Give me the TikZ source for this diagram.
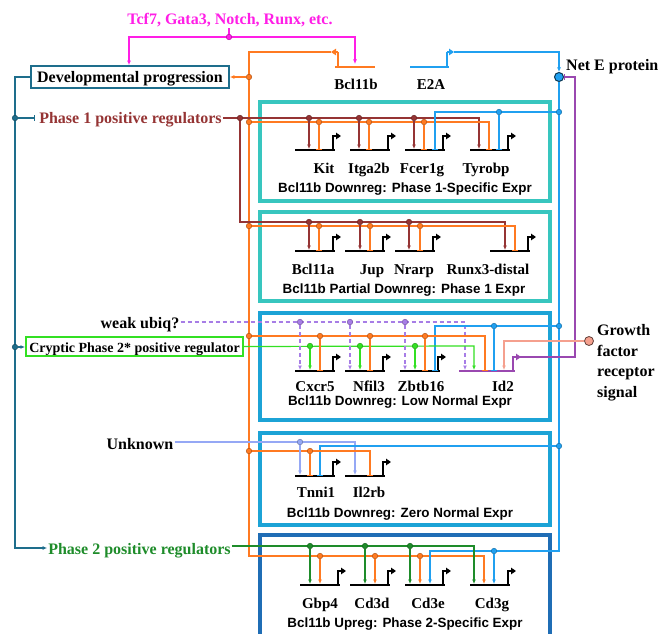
\documentclass[tikz,border=0pt]{standalone}
\usepackage{fontspec}
\setmainfont{Liberation Serif}
\setsansfont{Liberation Sans}
\usetikzlibrary{arrows.meta}
\definecolor{cMag}{HTML}{FF1EE6}
\definecolor{cDev}{HTML}{1E6E8C}
\definecolor{cOr}{HTML}{FF7A21}
\definecolor{cRed}{HTML}{953434}
\definecolor{cBlue}{HTML}{20A0F0}
\definecolor{cPur}{HTML}{9A48B0}
\definecolor{cLP}{HTML}{A77DE6}
\definecolor{cLG}{HTML}{33E023}
\definecolor{cDG}{HTML}{1E8C2A}
\definecolor{cPeach}{HTML}{F5A08E}
\definecolor{cPeri}{HTML}{95A8F5}
\definecolor{cTurq}{HTML}{38C6BF}
\definecolor{cCyan}{HTML}{1CA3D6}
\definecolor{cNavy}{HTML}{1F6DB5}
\tikzset{
  wire/.style={line width=1.2pt,draw=#1},
  act/.style={-{Latex[length=4.5pt,width=4pt]}},
  rep/.style={-{Bar[width=6pt]}},
  jdot/.style={circle,inner sep=0pt,minimum size=5.5pt,fill=#1,draw=#1!70!black,line width=0.5pt},
  geneline/.style={line width=2.6pt,draw=#1},
  prom/.style={line width=2pt,draw=#1,-{Triangle[length=5pt,width=6.5pt]}},
  glabel/.style={font=\bfseries\fontsize{15}{17}\selectfont,inner sep=0pt},
  bigtxt/.style={font=\bfseries\fontsize{16}{18}\selectfont,inner sep=1pt},
  captxt/.style={font=\sffamily\bfseries\fontsize{13.4}{15}\selectfont,inner sep=0pt},
  grp/.style={draw=#1,line width=3.5pt,inner sep=0pt,fill=white},
}
\newcommand\jdrop[6]{%
  \node[jdot=#1] (#6) at (#2,#3) {};
  \coordinate (#6g) at (#2,#4);
  \draw[wire=#1,#5] (#6) -- (#6g);
}
\newcommand\gene[5]{%
  \coordinate (#1L) at (#2,#4);
  \coordinate (#1R) at (#3,#4);
  \draw[geneline=#5] (#1L) -- (#1R);
  \draw[prom=#5] (#3-2,#4+1) -- (#3-2,#4-14) -- (#3+6,#4-14);
}
\begin{document}
\begin{tikzpicture}[x=1pt,y=-1pt]
\useasboundingbox (0,0) rectangle (662,634);
% group boxes
\node[grp=cTurq,minimum width=290pt,minimum height=99pt] (box1) at (405,151.5) {};
\node[grp=cTurq,minimum width=290pt,minimum height=89pt] (box2) at (405,256.5) {};
\node[grp=cCyan,minimum width=290pt,minimum height=107pt] (box3) at (405,366.5) {};
\node[grp=cCyan,minimum width=290pt,minimum height=92pt] (box4) at (405,479) {};
\draw[draw=cNavy,line width=3.5pt] (260,645) -- (260,535) -- (550,535) -- (550,645);
\coordinate (box5) at (405,585);
% captions
\node[captxt,anchor=base] (cap1) at (405,192) {Bcl11b Downreg: Phase 1-Specific Expr};
\node[captxt,anchor=base] (cap2) at (404,293) {Bcl11b Partial Downreg: Phase 1 Expr};
\node[captxt,anchor=base] (cap3) at (400,405) {Bcl11b Downreg: Low Normal Expr};
\node[captxt,anchor=base] (cap4) at (400,517) {Bcl11b Downreg: Zero Normal Expr};
\node[captxt,anchor=base] (cap5) at (405,627) {Bcl11b Upreg: Phase 2-Specific Expr};
% text nodes
\node[bigtxt,text=cMag,anchor=base] (tcf) at (230,25) {Tcf7, Gata3, Notch, Runx, etc.};
\node[draw=cDev,line width=1.8pt,minimum width=198pt,minimum height=22pt,inner sep=0pt,
  text height=14pt,text depth=2pt,font=\bfseries\fontsize{16}{18}\selectfont] (dev) at (130,77) {Developmental progression};
\node[bigtxt,text=cRed,anchor=base] (ph1) at (130.5,124) {Phase 1 positive regulators};
\node[bigtxt,anchor=base] (wu) at (140,328) {weak ubiq?};
\node[draw=cLG,line width=2pt,minimum width=217pt,minimum height=19pt,inner sep=0pt,
  text height=13pt,text depth=1pt,font=\bfseries\fontsize{14}{16}\selectfont] (cryp) at (134.5,346.5) {Cryptic Phase 2* positive regulator};
\node[bigtxt,anchor=base] (unk) at (140,449) {Unknown};
\node[bigtxt,text=cDG,anchor=base] (ph2) at (139.5,554) {Phase 2 positive regulators};
\node[bigtxt,anchor=base west,inner sep=0pt] (netetxt) at (566,71) {Net E protein};
\node[anchor=base west,inner sep=0pt,align=left,font=\bfseries\fontsize{16}{20.5}\selectfont] (gf) at (597,397) {Growth\\factor\\receptor\\signal};
\node[glabel,anchor=base] (lbcl) at (356,89) {Bcl11b};
\node[glabel,anchor=base] (le2a) at (431,89) {E2A};
% regulator genes
\draw[geneline=cOr] (335,67) -- (375,67);
\draw[line width=2pt,draw=cOr] (338,68) -- (338,52);
\draw[draw=cOr,line width=1.2pt,-{Triangle[length=5pt,width=6.5pt]}] (338,52) -- (331,52);
\draw[geneline=cBlue] (410,67) -- (449,67);
\draw[line width=2pt,draw=cBlue] (447,68) -- (447,52);
\draw[draw=cBlue,line width=1.2pt,-{Triangle[length=5pt,width=6.5pt]}] (447,52) -- (454,52);
\node[circle,fill=cBlue,draw=black!65!cBlue,line width=1pt,minimum size=9pt,inner sep=0pt] (nete) at (559,77) {};
\node[circle,fill=cPeach,draw=black!60!cPeach,line width=0.8pt,minimum size=9pt,inner sep=0pt] (gfc) at (589,341) {};
% target genes
\gene{kit}{295}{335}{150}{black}
\gene{itg}{350}{390}{150}{black}
\gene{fce}{405}{445}{150}{black}
\gene{tyr}{470}{510}{150}{black}
\gene{bca}{295}{335}{251}{black}
\gene{jup}{345}{385}{251}{black}
\gene{nra}{395}{435}{251}{black}
\gene{rnx}{490}{530}{251}{black}
\gene{cxc}{295}{335}{371}{black}
\gene{nfi}{345}{385}{371}{black}
\gene{zbt}{400}{440}{371}{black}
\gene{idt}{459}{515}{371}{cPur}
\gene{tnn}{295}{335}{476}{black}
\gene{ilr}{345}{385}{476}{black}
\gene{gbp}{300}{340}{585}{black}
\gene{cdd}{350}{390}{585}{black}
\gene{cde}{405}{445}{585}{black}
\gene{cdg}{470}{510}{585}{black}
% gene labels
\node[glabel,anchor=base] (lkit) at (324,173) {Kit};
\node[glabel,anchor=base] (litg) at (369,173) {Itga2b};
\node[glabel,anchor=base] (lfce) at (422,173) {Fcer1g};
\node[glabel,anchor=base] (ltyr) at (486,173) {Tyrobp};
\node[glabel,anchor=base] (lbca) at (313,274) {Bcl11a};
\node[glabel,anchor=base] (ljup) at (372,274) {Jup};
\node[glabel,anchor=base] (lnra) at (414,274) {Nrarp};
\node[glabel,anchor=base] (lrnx) at (488,274) {Runx3-distal};
\node[glabel,anchor=base] (lcxc) at (315,391) {Cxcr5};
\node[glabel,anchor=base] (lnfi) at (369,391) {Nfil3};
\node[glabel,anchor=base] (lzbt) at (421,391) {Zbtb16};
\node[glabel,anchor=base] (lidt) at (503,391) {Id2};
\node[glabel,anchor=base] (ltnn) at (316,497) {Tnni1};
\node[glabel,anchor=base] (lilr) at (369,497) {Il2rb};
\node[glabel,anchor=base] (lgbp) at (320,608) {Gbp4};
\node[glabel,anchor=base] (lcdd) at (372,608) {Cd3d};
\node[glabel,anchor=base] (lcde) at (428,608) {Cd3e};
\node[glabel,anchor=base] (lcdg) at (492,608) {Cd3g};
% magenta
\coordinate (magL) at (129,37);
\coordinate (magR) at (355,37);
\draw[wire=cMag] (229,37) -- (229,28);
\draw[wire=cMag,act] (229,37) -- (magL) -- (dev.north -| magL);
\draw[wire=cMag,act] (229,37) -- (magR) -- (355,64);
\node[jdot=cMag] (magJ) at (229,37) {};
% developmental teal
\coordinate (tl1) at (15,77);
\coordinate (tlB) at (15,548);
\draw[wire=cDev,act] (dev.west) -- (tl1) -- (tlB) -- (ph2.west |- tlB);
\node[jdot=cDev] (tlP) at (15,118) {};
\draw[wire=cDev,rep] (tlP) -- (35,118);
\node[jdot=cDev] (tlC) at (15,347) {};
\draw[wire=cDev,act] (tlC) -- (cryp.west |- tlC);
% orange main
\draw[wire=cOr,act] (331,52) -- (249,52) -- (249,556) -- (484,556) -- (484,584);
\node[jdot=cOr] (oDev) at (249,77) {};
\draw[wire=cOr,act] (oDev) -- (dev.east |- oDev);
% blue main
\draw[wire=cBlue,act] (454,52) -- (559,52) -- (nete.north);
\draw[wire=cBlue,act] (nete.south) -- (559,551) -- (430,551) -- (430,584);
% purple Id2 -> Net E
\draw[wire=cPur,line width=1.4pt,rep] (519,357) -- (575,357) -- (575,77) -- (nete.east);
% ---- box 1
\draw[wire=cRed,act] (ph1.east |- 0,118) -- (479,118) -- (479,149);
\draw[wire=cRed,act] (240,118) -- (240,222) -- (505,222) -- (505,250);
\draw[wire=cOr,rep] (249,122) -- (489,122) -- (489,150);
\draw[wire=cBlue,rep] (559,112) -- (435,112) -- (435,150);
\node[jdot=cRed] (rJ) at (240,118) {};
\node[jdot=cOr] (o1) at (249,122) {};
\node[jdot=cBlue] (b1) at (559,112) {};
\jdrop{cRed}{309}{118}{149}{act}{rKit}
\jdrop{cRed}{359}{118}{149}{act}{rItg}
\jdrop{cRed}{414}{118}{149}{act}{rFce}
\jdrop{cOr}{319}{122}{150}{rep}{oKit}
\jdrop{cOr}{369}{122}{150}{rep}{oItg}
\jdrop{cOr}{424}{122}{150}{rep}{oFce}
\jdrop{cBlue}{499}{112}{150}{rep}{bTyr}
% ---- box 2
\draw[wire=cOr,rep] (249,226) -- (515,226) -- (515,251);
\node[jdot=cOr] (o2) at (249,226) {};
\jdrop{cRed}{309}{222}{250}{act}{rBca}
\jdrop{cRed}{360}{222}{250}{act}{rJup}
\jdrop{cRed}{409}{222}{250}{act}{rNra}
\jdrop{cOr}{319}{226}{251}{rep}{oBca}
\jdrop{cOr}{370}{226}{251}{rep}{oJup}
\jdrop{cOr}{420}{226}{251}{rep}{oNra}
% ---- box 3
\draw[wire=cLP,dash pattern=on 4pt off 3pt,act] (wu.east |- 0,322) -- (465,322) -- (465,370);
\draw[wire=cBlue,rep] (559,326) -- (435,326) -- (435,371);
\draw[wire=cOr,rep] (249,336) -- (485,336) -- (485,371);
\draw[wire=cPeach,act] (gfc.west) -- (504,341) -- (504,370);
\draw[wire=cLG,act] (cryp.east) -- (474,346) -- (474,370);
\node[jdot=cBlue] (b3) at (559,326) {};
\node[jdot=cOr] (o3) at (249,336) {};
\jdrop{cLP}{300}{322}{370}{act,dash pattern=on 4pt off 3pt}{pCxc}
\jdrop{cLP}{350}{322}{370}{act,dash pattern=on 4pt off 3pt}{pNfi}
\jdrop{cLP}{405}{322}{370}{act,dash pattern=on 4pt off 3pt}{pZbt}
\jdrop{cLG}{310}{346}{370}{act}{gCxc}
\jdrop{cLG}{360}{346}{370}{act}{gNfi}
\jdrop{cLG}{415}{346}{370}{act}{gZbt}
\jdrop{cOr}{320}{336}{371}{rep}{oCxc}
\jdrop{cOr}{370}{336}{371}{rep}{oNfi}
\jdrop{cOr}{425}{336}{371}{rep}{oZbt}
\jdrop{cBlue}{494}{326}{371}{rep}{bIdt}
% ---- box 4
\draw[wire=cPeri,act] (unk.east |- 0,442) -- (355,442) -- (355,475);
\draw[wire=cBlue,rep] (559,446) -- (320,446) -- (320,476);
\draw[wire=cOr,rep] (249,451) -- (370,451) -- (370,476);
\node[jdot=cBlue] (b4) at (559,446) {};
\node[jdot=cOr] (o4) at (249,451) {};
\jdrop{cPeri}{300}{442}{475}{act}{uTnn}
\jdrop{cOr}{310}{451}{476}{rep}{oTnn}
% ---- box 5
\draw[wire=cDG,act] (ph2.east |- 0,546) -- (474,546) -- (474,584);
\jdrop{cDG}{310}{546}{584}{act}{dGbp}
\jdrop{cDG}{365}{546}{584}{act}{dCdd}
\jdrop{cDG}{410}{546}{584}{act}{dCde}
\jdrop{cOr}{320}{556}{584}{act}{oGbp}
\jdrop{cOr}{375}{556}{584}{act}{oCdd}
\jdrop{cOr}{420}{556}{584}{act}{oCde}
\jdrop{cBlue}{494}{551}{584}{act}{bCdg}
\end{tikzpicture}
\end{document}
